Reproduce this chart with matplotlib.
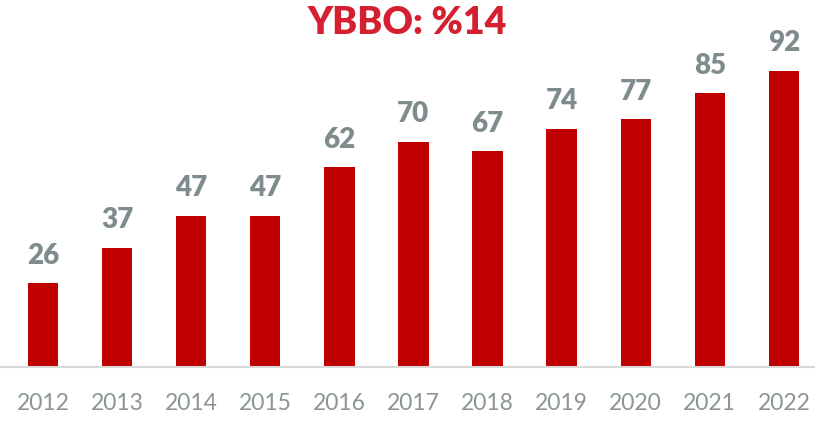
import matplotlib.pyplot as plt

# data
years = ['2012', '2013', '2014', '2015', '2016', '2017', '2018', '2019', '2020', '2021', '2022']
values = [26, 37, 47, 47, 62, 70, 67, 74, 77, 85, 92]
title = 'YBBO: %14'

plt.rcParams['font.family'] = ['Lato', 'DejaVu Sans']

fig = plt.figure(figsize=(8.15, 4.24), dpi=100)
ax = fig.add_axes([0, 0.1344, 1, 0.759])

x = range(len(years))
bars = ax.bar(x, values, width=0.41, color='#C00000')

for xi, v in zip(x, values):
    ax.annotate(str(v), (xi, v), xytext=(0, 14), textcoords='offset points',
                ha='center', va='baseline', fontsize=20, fontweight='heavy',
                color='#7F8C8D')

ax.set_xlim(-0.58, 10.42)
ax.set_ylim(0, 100)
ax.set_xticks(list(x))
ax.set_xticklabels(years, fontsize=16.5, color='#8C9595')
ax.tick_params(axis='x', length=0, pad=19)
ax.set_yticks([])
for s in ['top', 'right', 'left']:
    ax.spines[s].set_visible(False)
ax.spines['bottom'].set_color('#D9D9D9')
ax.spines['bottom'].set_linewidth(1.5)

fig.text(0.5, 0.985, title, ha='center', va='top', fontsize=27,
         fontweight='heavy', color='#D52032')

fig.savefig('out.png', dpi=100)
